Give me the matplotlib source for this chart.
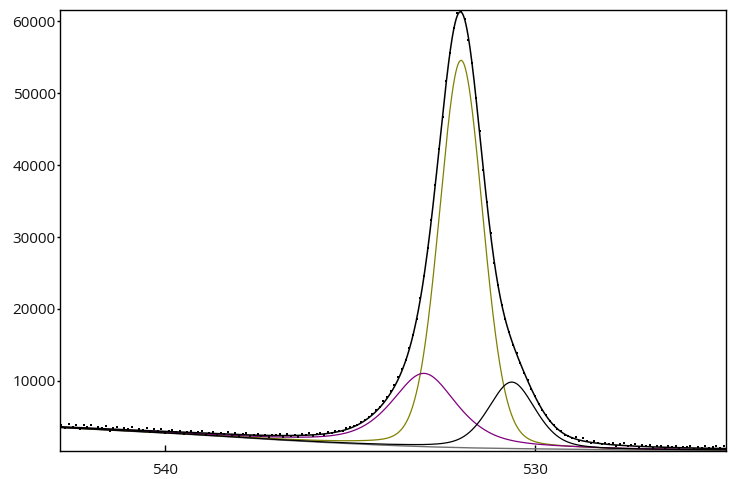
import numpy as np
import matplotlib
matplotlib.use("Agg")
import matplotlib.pyplot as plt
from matplotlib.ticker import MultipleLocator

# ---- measured spectrum (binding energy grid, 0.1 eV steps from 542.8 down to 524.9)
e_start, e_step, n_pts = 542.8, -0.1, 180
counts = [
    3844, 3460, 3976, 3612, 3808, 3305, 3821, 3558, 3874, 3311,
    3609, 3406, 3704, 3081, 3439, 3577, 3175, 3393, 3231, 3509,
    2987, 3345, 3182, 3479, 2937, 3295, 3033, 3291, 2769, 3065,
    3160, 2816, 3051, 2547, 2883, 3019, 2635, 2871, 3007, 2524,
    2722, 2859, 2397, 2714, 2533, 2813, 2432, 2692, 2291, 2575,
    2738, 2362, 2485, 2649, 2257, 2465, 2194, 2502, 2410,
    2564, 2243, 2624, 2308, 2514, 2182, 2574, 2450, 2711, 2360,
    2599, 2785, 2518, 2858, 2712, 3041, 3011, 2995, 3470, 3525,
    3725, 3897, 4291, 4542, 5000, 5320, 5935, 6391, 7127, 7709,
    8620, 9380, 10467, 11594, 12911, 14507, 16411, 18543, 21539, 24563,
    28538, 32399, 37247, 42242, 46713, 51717, 55590, 59093, 61142, 61523,
    60347, 57474, 54177, 49417, 44781, 39393, 34833, 30591, 26391, 23359,
    20548, 18609, 16757, 15043, 13885, 12501, 11118, 10119, 8907, 7943,
    6741, 5991, 5238, 4348, 3908, 3334, 2996, 2524, 2372, 2081,
    2195, 1671, 2034, 1658, 1299, 1626, 1382, 1143, 1388, 1199,
    1318, 969, 1199, 1310, 860, 1037, 1174, 850, 1027, 884,
    1088, 672, 916, 980, 684, 911, 778, 966, 613, 820,
    735, 885, 576, 826, 656, 908, 580, 813, 945, 717, 893,
]

# ---- background (read at integer binding energies)
bg_energy = [524, 525, 526, 527, 528, 529, 530, 531, 532, 533, 534, 535,
             536, 537, 538, 539, 540, 541, 542, 543]
bg_value = [340, 345, 355, 370, 400, 480, 530, 595, 690, 830, 1020, 1250,
            1500, 1790, 2110, 2440, 2740, 3010, 3270, 3535]

# ---- fitted components: centre (eV), height (counts above bg), FWHM (eV), Lorentz fraction
comp_center = [532.0, 533.0, 530.63]
comp_height = [53900, 10200, 9250]
comp_fwhm = [1.38, 2.1, 1.5]
comp_lmix = [0.15, 0.6, 0.35]
comp_color = ["#808000", "#800080", "#000000"]

x_ticks = [540, 530]
y_ticks = [10000, 20000, 30000, 40000, 50000, 60000]


def gl(x, c, h, w, m):
    u = (x - c) / w
    return h * ((1 - m) * np.exp(-4 * np.log(2) * u ** 2) + m / (1 + 4 * u ** 2))


energy = e_start + e_step * np.arange(n_pts)
xf = np.linspace(542.84, 524.84, 1801)
bgf = np.interp(xf, bg_energy, bg_value)

fig = plt.figure(figsize=(7.36, 4.79), dpi=100)
ax = fig.add_axes([60 / 736, 1 - 451 / 479, 666 / 736, 441 / 479])

ax.plot(xf, bgf, color="#6e6e6e", lw=1.0, zorder=2)
env = bgf.copy()
for c, h, w, m, col in zip(comp_center, comp_height, comp_fwhm, comp_lmix, comp_color):
    comp = gl(xf, c, h, w, m)
    env += comp
    ax.plot(xf, bgf + comp, color=col, lw=0.9, zorder=3)
ax.plot(xf, env, color="black", lw=1.1, zorder=4)
ax.plot(energy, counts, linestyle="none", marker="s", markersize=1.8,
        markeredgewidth=0, color="black", zorder=5)

ax.set_xlim(542.84, 524.84)
ax.set_ylim(230, 61600)
ax.set_xticks(x_ticks)
ax.set_yticks(y_ticks)

ax.tick_params(axis="x", direction="in", length=4, width=1, pad=9, labelsize=11)
ax.tick_params(axis="y", direction="out", length=2.5, width=1, pad=0.5, labelsize=11)
for lab in ax.get_xticklabels() + ax.get_yticklabels():
    lab.set_fontfamily("Open Sans")
    lab.set_color("#111111")
for sp in ax.spines.values():
    sp.set_linewidth(1.0)
    sp.set_color("black")

fig.savefig("out.png", dpi=100)
